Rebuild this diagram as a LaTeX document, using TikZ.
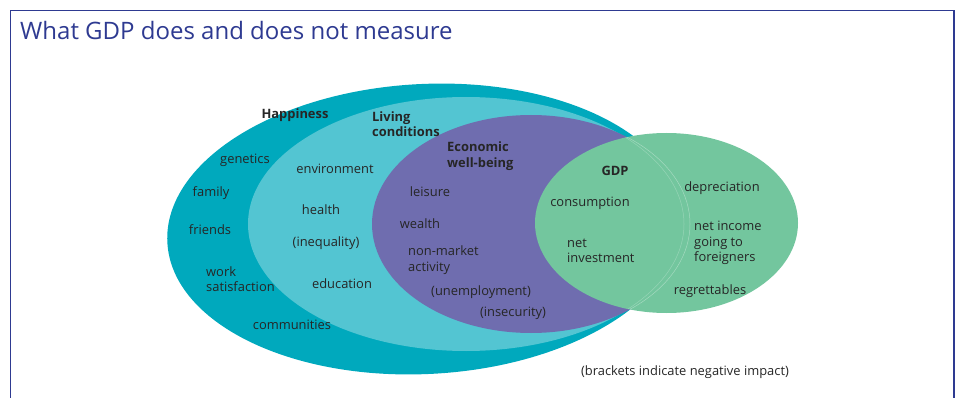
\documentclass[tikz,border=0pt]{standalone}
\usepackage{fontspec}
\setmainfont{Open Sans}
\definecolor{happy}{HTML}{00A9BD}
\definecolor{living}{HTML}{53C5D2}
\definecolor{econ}{HTML}{6F6DAF}
\definecolor{gdpc}{HTML}{73C69E}
\definecolor{txt}{HTML}{262626}
\definecolor{frameblue}{HTML}{2E3A91}
\begin{document}
\begin{tikzpicture}[x=1pt,y=-1pt,
  lbl/.style={text=txt,font=\fontsize{12.9}{15.5}\selectfont,inner sep=0pt},
  head/.style={lbl,font=\fontsize{12.9}{15.5}\selectfont\bfseries},
  multi/.style={lbl,align=left,anchor=west}]
\useasboundingbox (0,0) rectangle (958,398);
\draw[frameblue,line width=1.4pt] (10.5,398) -- (10.5,10.5) -- (954,10.5) -- (954,398);
\node[anchor=base west,text=frameblue,font=\fontsize{24}{28}\selectfont,inner sep=0pt] (title) at (20,40) {What GDP does and does not measure};
% ellipses
\fill[happy,rotate around={3:(425,229)}] (425,229) ellipse [x radius=258, y radius=145];
\fill[living] (466,224) ellipse [x radius=218, y radius=127];
\fill[econ] (531,224) ellipse [x radius=159, y radius=109];
\fill[gdpc] (666.5,223) ellipse [x radius=131.5, y radius=90];
\begin{scope}
\clip (666.5,223) ellipse [x radius=131.5, y radius=90];
\draw[white,opacity=0.35,line width=0.5pt] (531,224) ellipse [x radius=159, y radius=109];
\draw[white,opacity=0.25,line width=0.5pt] (466,224) ellipse [x radius=218, y radius=127];
\end{scope}
% headings
\node[head] (hap) at (295,115) {Happiness};
\node[head,align=left,anchor=west] (liv) at (372,124) {Living\\conditions};
\node[head,align=left,anchor=west] (eco) at (447,156) {Economic\\well-being};
\node[head] (gdp) at (615,171) {GDP};
% happiness items
\node[lbl] (gen) at (245,160) {genetics};
\node[lbl] (fam) at (211,193) {family};
\node[lbl] (fri) at (210,230) {friends};
\node[multi] (work) at (206,279) {work\\satisfaction};
\node[lbl] (com) at (292,325) {communities};
% living items
\node[lbl] (env) at (335,169) {environment};
\node[lbl] (hea) at (321,210) {health};
\node[lbl] (ineq) at (326,243) {(inequality)};
\node[lbl] (edu) at (342,284) {education};
% economic items
\node[lbl] (lei) at (430,192) {leisure};
\node[lbl] (wea) at (420,224) {wealth};
\node[multi] (nonm) at (408,260) {non-market\\activity};
\node[lbl] (unem) at (481,292) {(unemployment)};
\node[lbl] (insec) at (513,313) {(insecurity)};
% GDP items
\node[lbl] (cons) at (590,203) {consumption};
\node[multi] (inv) at (567,251) {net\\investment};
\node[lbl] (dep) at (722,188) {depreciation};
\node[multi] (nif) at (694,243) {net income\\going to\\foreigners};
\node[lbl] (reg) at (710,291) {regrettables};
\node[lbl] (note) at (685,372) {(brackets indicate negative impact)};
\end{tikzpicture}
\end{document}
